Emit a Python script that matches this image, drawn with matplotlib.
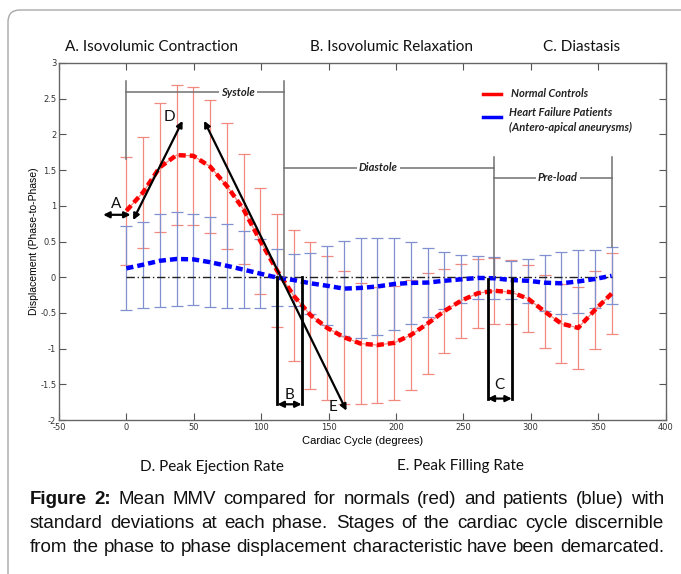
import matplotlib
matplotlib.use('Agg')
import matplotlib.pyplot as plt
from matplotlib.patches import FancyBboxPatch
from matplotlib.transforms import IdentityTransform
import numpy as np

plt.rcParams['axes.unicode_minus'] = False

# Data (30 phases across one cardiac cycle)
phase = np.linspace(0, 360, 30)

normal_mean = np.array([0.93, 1.19, 1.54, 1.71, 1.70, 1.55, 1.28, 0.95, 0.51, 0.095,
                        -0.26, -0.53, -0.71, -0.84, -0.93, -0.95, -0.92, -0.81, -0.65, -0.475,
                        -0.33, -0.225, -0.19, -0.21, -0.30, -0.48, -0.65, -0.71, -0.46, -0.23])
normal_sd = np.array([0.76, 0.78, 0.90, 0.98, 0.97, 0.93, 0.885, 0.77, 0.745, 0.795,
                      0.92, 1.03, 1.01, 0.93, 0.85, 0.81, 0.80, 0.775, 0.71, 0.59,
                      0.52, 0.48, 0.46, 0.45, 0.47, 0.51, 0.55, 0.57, 0.55, 0.57])

patient_mean = np.array([0.124, 0.175, 0.23, 0.255, 0.25, 0.21, 0.16, 0.106, 0.05, -0.005,
                         -0.04, -0.085, -0.12, -0.16, -0.15, -0.13, -0.095, -0.08, -0.075, -0.05,
                         -0.03, -0.01, -0.015, -0.04, -0.05, -0.077, -0.085, -0.06, -0.025, 0.02])
patient_sd = np.array([0.59, 0.605, 0.65, 0.655, 0.64, 0.63, 0.59, 0.544, 0.48, 0.395,
                       0.37, 0.425, 0.55, 0.67, 0.70, 0.68, 0.64, 0.57, 0.485, 0.40,
                       0.334, 0.30, 0.295, 0.27, 0.31, 0.39, 0.435, 0.44, 0.405, 0.40])

caption_lines = [
    [("Figure 2:", "bold"), ("Mean MMV compared for normals (red) and patients (blue) with", "normal")],
    [("standard deviations at each phase. Stages of the cardiac cycle discernible", "normal")],
    [("from the phase to phase displacement characteristic have been demarcated.", "normal")],
]

W, H = 681, 574
fig = plt.figure(figsize=(W / 100, H / 100), dpi=100)

# rounded frame around the figure panel (pixel coords, right/bottom edges off the page)
frame = FancyBboxPatch((8, -40), 800, H - 10 + 40, boxstyle="round,pad=0,rounding_size=12",
                       transform=IdentityTransform(), fill=False, ec='#a8a8a8', lw=1.0)
fig.patches.append(frame)

ax = fig.add_axes([59 / W, 1 - 420 / H, (665.5 - 59) / W, (420 - 63) / H])

light_red = '#f08a80'
light_blue = '#8090d0'

# error bars
ax.errorbar(phase, normal_mean, yerr=normal_sd, fmt='none', ecolor=light_red,
            elinewidth=0.9, capsize=4, capthick=0.9, zorder=2)
ax.errorbar(phase, patient_mean, yerr=patient_sd, fmt='none', ecolor=light_blue,
            elinewidth=0.9, capsize=4, capthick=0.9, zorder=2)

# zero reference
ax.plot([0, 360], [0, 0], color='#222222', lw=1.0, linestyle=(0, (6, 2, 1, 2)), zorder=3)

# mean curves
ax.plot(phase, normal_mean, color=light_red, lw=0.9, zorder=4)
ax.plot(phase, normal_mean, color='#ff0000', lw=3.2, dashes=(1.6, 0.9), zorder=5)
ax.plot(phase, patient_mean, color='#0000ff', lw=3.2, dashes=(1.6, 0.9), zorder=5)

ax.set_xlim(-50, 400)
ax.set_ylim(-2, 3)
ax.set_xticks(np.arange(-50, 401, 50))
ax.set_yticks(np.arange(-2, 3.01, 0.5))
ax.set_yticklabels(['-2', '-1.5', '-1', '-0.5', '0', '0.5', '1', '1.5', '2', '2.5', '3'])
ax.tick_params(direction='in', length=5, width=0.8, colors='#555555', labelcolor='#333333',
               labelsize=6, top=True, right=True, pad=2)
for s in ax.spines.values():
    s.set_color('#666666')
    s.set_linewidth(1.0)
ax.set_xlabel('Cardiac Cycle (degrees)', fontsize=8, family='Liberation Sans', labelpad=3)
ax.set_ylabel('Displacement (Phase-to-Phase)', fontsize=7.5, family='Liberation Sans', labelpad=1)

# phase brackets
gray = '#707070'
lab = dict(fontsize=8, family='Lato', fontweight='bold', style='italic', color='#222222',
           ha='center', va='center', bbox=dict(fc='white', ec='none', pad=1.5), zorder=7)
ax.plot([0, 0], [1.66, 2.75], color=gray, lw=1.1, zorder=6)
ax.plot([0, 116.8], [2.59, 2.59], color=gray, lw=1.1, zorder=6)
ax.plot([116.8, 116.8], [0.0, 2.75], color=gray, lw=1.1, zorder=6)
ax.text(83, 2.59, 'Systole', **lab)
ax.plot([116.8, 272.9], [1.53, 1.53], color=gray, lw=1.1, zorder=6)
ax.text(187, 1.53, 'Diastole', **lab)
ax.plot([272.9, 272.9], [0.0, 1.68], color=gray, lw=1.1, zorder=6)
ax.plot([272.9, 360.4], [1.39, 1.39], color=gray, lw=1.1, zorder=6)
ax.plot([360.4, 360.4], [0.42, 1.68], color=gray, lw=1.1, zorder=6)
ax.text(320, 1.39, 'Pre-load', **lab)

# legend drawn as text
ax.plot([264.7, 278.3], [2.57, 2.57], color='#ff0000', lw=2.5)
ax.plot([264.7, 278.3], [2.24, 2.24], color='#0000ff', lw=2.5)
leg = dict(fontsize=8, family='Lato', fontweight='bold', style='italic', color='#222222',
           ha='left', va='center')
ax.text(285, 2.57, 'Normal Controls', **leg)
ax.text(284, 2.30, 'Heart Failure Patients', **leg)
ax.text(284, 2.09, '(Antero-apical aneurysms)', **leg)

# black event markers
arr = dict(arrowstyle='<|-|>', color='black', lw=1.6, mutation_scale=9, shrinkA=0, shrinkB=0)
letter = dict(fontsize=11, family='Lato', color='#111111', ha='center', va='center', zorder=8)
ax.annotate('', xy=(3.1, 0.874), xytext=(-17.2, 0.874), arrowprops=arr, zorder=8)
ax.text(-7.3, 1.02, 'A', **letter)
ax.annotate('', xy=(41.7, 2.19), xytext=(5, 0.80), arrowprops=arr, zorder=8)
ax.annotate('', xy=(57.7, 2.19), xytext=(163.3, -1.87), arrowprops=arr, zorder=8)
ax.text(31.8, 2.24, 'D', **letter)
ax.text(153.4, -1.82, 'E', **letter)
ax.plot([112.1, 112.1], [0, -1.78], color='black', lw=2, zorder=8)
ax.plot([130, 130], [0, -1.78], color='black', lw=2, zorder=8)
ax.annotate('', xy=(130, -1.78), xytext=(112.1, -1.78), arrowprops=arr, zorder=8)
ax.text(121.3, -1.65, 'B', **letter)
ax.plot([268, 268], [-0.02, -1.70], color='black', lw=2, zorder=8)
ax.plot([286, 286], [-0.02, -1.70], color='black', lw=2, zorder=8)
ax.annotate('', xy=(286, -1.70), xytext=(268, -1.70), arrowprops=arr, zorder=8)
ax.text(277, -1.51, 'C', **letter)

# stage names around the chart
stage = dict(fontsize=11, family='Lato', color='#111111', va='center', ha='left')
fig.text(65 / W, 1 - 47 / H, 'A. Isovolumic Contraction', **stage)
fig.text(310 / W, 1 - 47 / H, 'B. Isovolumic Relaxation', **stage)
fig.text(543 / W, 1 - 47 / H, 'C. Diastasis', **stage)
fig.text(140 / W, 1 - 467 / H, 'D. Peak Ejection Rate', **stage)
fig.text(397 / W, 1 - 466 / H, 'E. Peak Filling Rate', **stage)

# justified caption
renderer = fig.canvas.get_renderer()
x_left, x_right = 30, 664
line_y = [500, 524, 548]
for parts, yy in zip(caption_lines, line_y):
    words = []
    for txt, wt in parts:
        for w in txt.split(' '):
            words.append((w, wt))
    objs = [fig.text(0, 1 - yy / H, w, fontsize=13.5, family='Liberation Sans', fontweight=wt,
                     color='#111111', va='center', ha='left') for w, wt in words]
    widths = [o.get_window_extent(renderer).width for o in objs]
    gap = (x_right - x_left - sum(widths)) / (len(objs) - 1)
    x = x_left
    for o, wd in zip(objs, widths):
        o.set_x(x / W)
        x += wd + gap

fig.savefig('out.png', dpi=100)
